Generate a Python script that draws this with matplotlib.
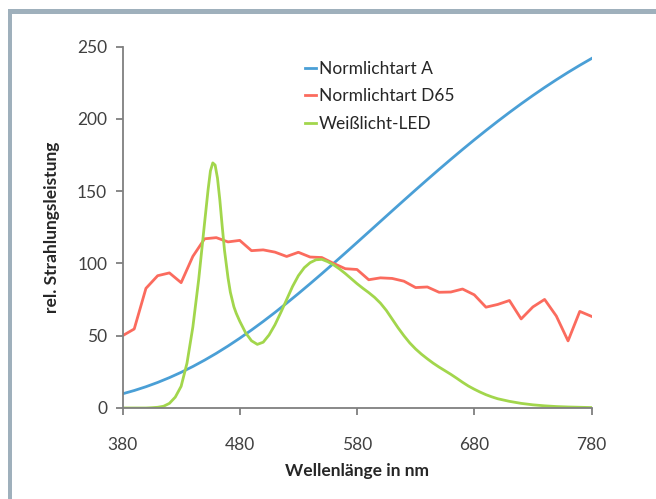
import matplotlib
matplotlib.use("Agg")
import matplotlib.pyplot as plt
from matplotlib.patches import Rectangle

# Wavelengths (nm)
wl_10 = list(range(380, 781, 10))

# Normlichtart A (relative spectral power)
illum_a = [9.80, 12.09, 14.71, 17.68, 21.00, 24.67, 28.70, 33.09, 37.81, 42.87,
           48.24, 53.91, 59.86, 66.06, 72.50, 79.13, 85.95, 92.91, 100.00, 107.18,
           114.44, 121.73, 129.04, 136.35, 143.62, 150.84, 157.98, 165.03, 171.96, 178.77,
           185.43, 191.93, 198.26, 204.41, 210.37, 216.12, 221.67, 227.00, 232.12, 237.01,
           241.68]

# Normlichtart D65
illum_d65 = [49.98, 54.65, 82.75, 91.49, 93.43, 86.68, 104.86, 117.01, 117.81, 114.86,
             115.92, 108.81, 109.35, 107.80, 104.79, 107.69, 104.41, 104.05, 100.00, 96.33,
             95.79, 88.69, 90.01, 89.60, 87.70, 83.29, 83.70, 80.03, 80.21, 82.28,
             78.28, 69.72, 71.61, 74.35, 61.60, 69.89, 75.09, 63.59, 46.42, 66.81,
             63.38]

# Weißlicht-LED
led_wl = [380, 390, 400, 405, 410, 415, 420, 425, 430, 435, 440, 445, 450,
          453, 455, 457, 459, 461, 463, 465, 467, 470, 472, 475, 477, 480, 485, 490, 495, 500,
          505, 510, 515, 520, 525, 530, 535, 540, 545, 550, 555, 560, 565, 570, 575,
          580, 585, 590, 595, 600, 605, 610, 615, 620, 625, 630, 635, 640, 645, 650,
          655, 660, 665, 670, 675, 680, 685, 690, 695, 700, 710, 720, 730, 740, 750,
          760, 770, 780]
led = [0.0, 0.0, 0.0, 0.2, 0.5, 1.2, 3.2, 7.5, 15.0, 31.0, 56.0, 89.0, 128.0,
       151.0, 164.0, 169.5, 168.0, 159.0, 144.0, 126.0, 109.0, 90.0, 80.0, 70.0, 65.5, 60.0, 52.0, 46.5, 44.0, 45.5,
       50.5, 57.5, 66.0, 75.0, 84.0, 91.5, 97.0, 100.5, 102.5, 102.8, 101.2, 99.0, 96.2, 93.0, 89.5,
       86.0, 82.8, 79.8, 76.5, 72.5, 67.5, 61.5, 55.5, 50.0, 45.0, 40.8, 37.2, 34.0, 31.0, 28.3,
       25.8, 23.3, 20.6, 17.8, 15.2, 13.0, 11.0, 9.2, 7.7, 6.4, 4.6, 3.2, 2.2, 1.5, 1.0,
       0.7, 0.5, 0.3]

series_names = ["Normlichtart A", "Normlichtart D65", "Weißlicht-LED"]
x_ticks = [380, 480, 580, 680, 780]
y_ticks = [0, 50, 100, 150, 200, 250]

plt.rcParams['font.family'] = ['Lato', 'DejaVu Sans']

fig = plt.figure(figsize=(6.56, 4.99), dpi=100)
W, H = 656, 499
frame_col = "#9fb0bc"
fig.patches.append(Rectangle((8 / W, 0), 4 / W, (H - 9) / H, transform=fig.transFigure,
                             facecolor=frame_col, edgecolor="none"))
fig.patches.append(Rectangle((8 / W, (H - 14) / H), (W - 8) / W, 5 / H, transform=fig.transFigure,
                             facecolor=frame_col, edgecolor="none"))

ax = fig.add_axes([122.5 / W, 1 - 408 / H, (591.5 - 122.5) / W, (408 - 46.5) / H])

ax.plot(wl_10, illum_a, color="#4a9fd6", lw=2.0, label=series_names[0], solid_joinstyle="round")
ax.plot(wl_10, illum_d65, color="#fb6b5e", lw=2.0, label=series_names[1], solid_joinstyle="round")
ax.plot(led_wl, led, color="#a2d64c", lw=2.0, label=series_names[2], solid_joinstyle="round")

ax.set_xlim(380, 780)
ax.set_ylim(0, 250)
ax.set_xticks(x_ticks)
ax.set_yticks(y_ticks)
for s in ["top", "right"]:
    ax.spines[s].set_visible(False)
for s in ["left", "bottom"]:
    ax.spines[s].set_color("#7f7f7f")
    ax.spines[s].set_linewidth(1.3)
ax.tick_params(axis="both", colors="#7f7f7f", length=5, width=1.3, labelcolor="#404040",
               labelsize=12.5)
ax.tick_params(axis="x", pad=16)
ax.tick_params(axis="y", pad=6)

ax.set_xlabel("Wellenlänge in nm", fontsize=12.5, fontweight="bold", color="#262626", labelpad=7)
ax.set_ylabel("rel. Strahlungsleistung", fontsize=12.5, fontweight="bold", color="#262626", labelpad=12)

leg = ax.legend(loc="upper left", bbox_to_anchor=(0.375, 0.98), frameon=False, fontsize=12.5,
                handlelength=0.6, handletextpad=0.2, labelspacing=0.68, borderaxespad=0)
for t in leg.get_texts():
    t.set_color("#262626")

fig.savefig("out.png", dpi=100)
